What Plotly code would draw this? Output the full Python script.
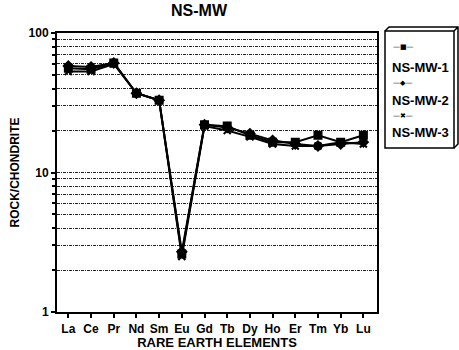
import plotly.graph_objects as go

elements = ["La", "Ce", "Pr", "Nd", "Sm", "Eu", "Gd", "Tb", "Dy", "Ho", "Er", "Tm", "Yb", "Lu"]
ns_mw_1 = [56, 55, 61, 37, 33, 2.6, 22, 21.5, 18.5, 16.5, 16.5, 18.5, 16.5, 18.5]
ns_mw_2 = [58, 57, 61, 37, 33, 2.7, 22, 21, 19, 17, 16, 15.5, 16, 16.5]
ns_mw_3 = [53, 53, 60, 37, 33, 2.5, 21.5, 20, 18, 16, 15.5, 15.5, 16.5, 16]
series_names = ["NS-MW-1", "NS-MW-2", "NS-MW-3"]
legend_glyphs = ["\u2014\u25A0\u2014", "\u2014\u25C6\u2014", "\u2014\u2716\u2014"]
y_ticks = [1, 10, 100]
minor_ticks = [2, 3, 4, 5, 6, 7, 8, 9, 20, 30, 40, 50, 60, 70, 80, 90]

FONT = "Liberation Sans, Arial, sans-serif"
W, H = 459, 350
L, R, T, B = 57, 377, 33, 312

fig = go.Figure()
symbols = ["square", "diamond", "x-thin-open"]
sizes = [7, 7, 7]
for name, vals, sym, sz in zip(series_names, [ns_mw_1, ns_mw_2, ns_mw_3], symbols, sizes):
    fig.add_trace(go.Scatter(
        x=elements, y=vals, name=name, mode="lines+markers",
        line=dict(color="black", width=2),
        marker=dict(symbol=sym, size=sz, color="black",
                    line=dict(color="black", width=2)),
        showlegend=False,
    ))

def px_to_paper(px, py):
    return (px - L) / (R - L), (B - py) / (B - T)

shapes = []
# legend box with 3D edge
x0, y0 = px_to_paper(385, 31)
x1, y1 = px_to_paper(454, 148)
shapes.append(dict(type="rect", xref="paper", yref="paper", x0=x0, y0=y1, x1=x1, y1=y0,
                   line=dict(color="black", width=1.5), fillcolor="white"))
pts = [px_to_paper(385, 31), px_to_paper(389, 27), px_to_paper(458, 27),
       px_to_paper(458, 144), px_to_paper(454, 148)]
path = "M " + " L ".join(f"{a},{b}" for a, b in pts)
pts2 = [px_to_paper(454, 31), px_to_paper(458, 27)]
path += " M " + " L ".join(f"{a},{b}" for a, b in pts2)
shapes.append(dict(type="path", xref="paper", yref="paper", path=path,
                   line=dict(color="black", width=1.5)))

annotations = []
sample_y = [47, 83, 116]
text_y = [67, 100, 132]
for g, n, sy, ty in zip(legend_glyphs, series_names, sample_y, text_y):
    ax, ay = px_to_paper(391, sy)
    annotations.append(dict(text=g, xref="paper", yref="paper", x=ax, y=ay,
                            xanchor="left", yanchor="middle", showarrow=False,
                            font=dict(family="DejaVu Sans", size=7, color="black")))
    tx, tyy = px_to_paper(390, ty)
    annotations.append(dict(text="<b>" + n + "</b>", xref="paper", yref="paper", x=tx, y=tyy,
                            xanchor="left", yanchor="middle", showarrow=False,
                            font=dict(family=FONT, size=13, color="black")))

fig.update_layout(
    width=W, height=H,
    margin=dict(l=L, r=W - R, t=T, b=H - B),
    paper_bgcolor="white", plot_bgcolor="white",
    font=dict(family=FONT, color="black", size=12),
    title=dict(text="<b>NS-MW</b>", x=(199 - L) / (R - L), xref="paper", xanchor="center",
               y=1 - 10 / H, yref="container", yanchor="middle",
               font=dict(size=16, family=FONT, color="black")),
    shapes=shapes, annotations=annotations,
    showlegend=False,
)
fig.update_xaxes(
    type="category", range=[-0.5, 13.6], automargin=False,
    tickvals=elements, ticktext=["<b>" + e + "</b>" for e in elements],
    showline=True, linecolor="black", linewidth=2, mirror=True,
    ticks="outside", ticklen=4, tickwidth=1.5, tickcolor="black",
    ticklabelstandoff=1,
    showgrid=False,
    tickfont=dict(size=12, family=FONT),
    title=dict(text="<b>RARE EARTH ELEMENTS</b>", font=dict(size=13, family=FONT), standoff=0),
)
fig.update_yaxes(
    type="log", range=[0, 2], automargin=False,
    tickvals=y_ticks, ticktext=["<b>%d</b>" % v for v in y_ticks],
    showline=True, linecolor="black", linewidth=2, mirror=True,
    ticks="outside", ticklen=4, tickwidth=1.5, tickcolor="black",
    showgrid=True, gridcolor="#222", gridwidth=1, griddash="3px,1px,1px,1px",
    minor=dict(tickvals=minor_ticks, showgrid=True, gridcolor="#222", gridwidth=1,
               griddash="3px,1px,1px,1px", ticks="outside", ticklen=3, tickcolor="black"),
    tickfont=dict(size=12, family=FONT),
    title=dict(text="<b>ROCK/CHONDRITE</b>", font=dict(size=12, family=FONT), standoff=6),
)
fig.write_html("out.html")
